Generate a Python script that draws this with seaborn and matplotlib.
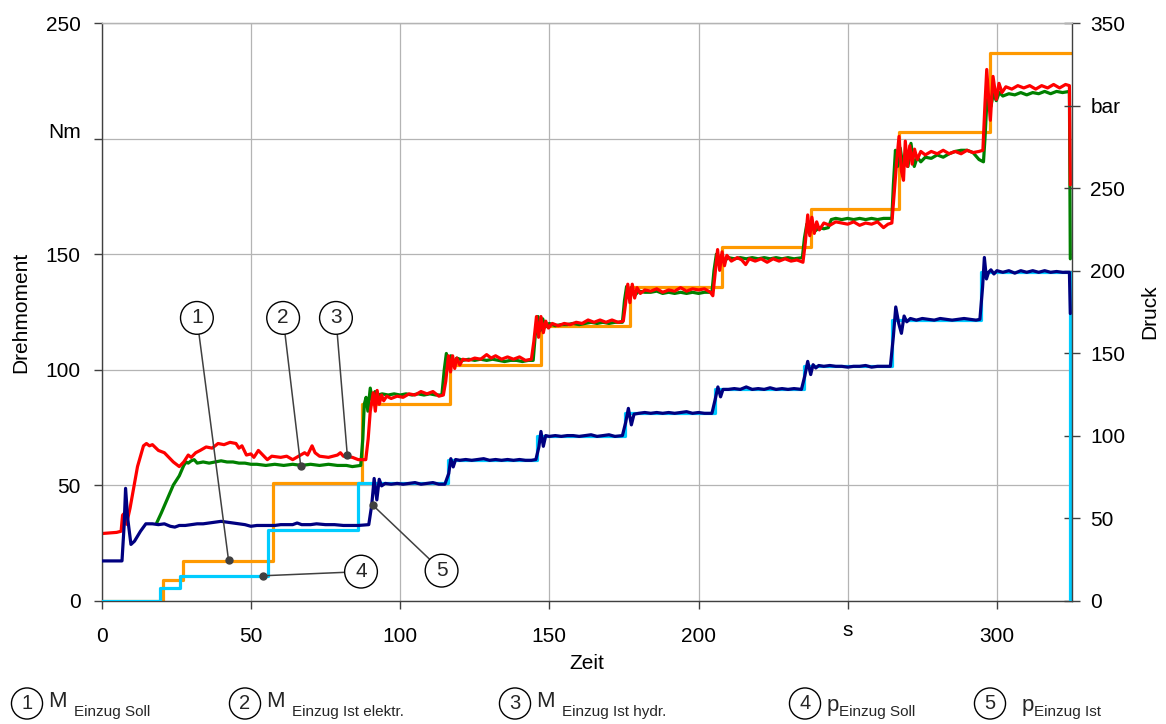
import matplotlib
matplotlib.use("Agg")
import matplotlib.pyplot as plt
import matplotlib.transforms as mtransforms
import seaborn as sns

# ---------------------------------------------------------------------------
# Set points (step signals)
# ---------------------------------------------------------------------------
t_m_soll = [0, 20.4, 27.4, 57.5, 87.1, 116.7, 147.1, 177.0, 207.8, 237.6, 267.2, 297.6, 325.0]
m_soll = [0, 9, 17, 51, 85, 102, 119, 136, 153, 169.5, 203, 237, 237]

t_p_soll = [0, 19.5, 26.2, 55.8, 86.0, 116.0, 146.0, 175.4, 205.4, 235.4, 265.0, 294.8, 324.6, 325.0]
p_soll = [0, 7.5, 15, 43, 71, 85, 99.5, 113.5, 128, 142, 170, 199, 0, 0]

# ---------------------------------------------------------------------------
# Measured torque, electric drive (Nm)
# ---------------------------------------------------------------------------
t_m_elektr = [
    18.4, 20, 22, 24, 26, 27.5, 28.3, 29, 30, 31, 32, 34, 36, 38, 40, 42, 44, 46, 48, 50,
    52, 55, 58, 61, 64, 67, 70, 73, 76, 79, 82, 84, 86.8,
    87.5, 88, 88.6, 89.2, 90, 90.8, 91.6, 92.5, 94, 96, 98, 100, 102, 104, 106, 108, 110, 112, 114,
    114.8, 115.5, 116.2, 117, 117.8, 119, 121, 123, 125, 127, 129, 131, 133, 135, 137, 139, 141, 143, 144.6,
    145.3, 146.2, 147, 147.8, 148.6, 150, 152, 154, 156, 158, 160, 162, 164, 166, 168, 170, 172, 174.5,
    175.2, 175.9, 176.7, 177.5, 178.5, 180, 182, 184, 186, 188, 190, 192, 194, 196, 198, 200, 202, 204.5,
    205.2, 206, 206.8, 207.6, 208.5, 210, 212, 214, 216, 218, 220, 222, 224, 226, 228, 230, 232, 234.8,
    235.5, 236.3, 237.1, 238, 239, 240.5, 242, 243.5, 244.5, 246, 248, 250, 252, 254, 256, 258, 260, 262, 264.8,
    265.3, 266, 266.7, 267.6, 268.4, 269.4, 270.2, 271.2, 272.3, 273.3, 274.5, 276, 278, 280, 282, 284, 286,
    288, 290, 292, 294, 295.5,
    296, 296.6, 297.2, 298, 298.8, 299.8, 300.8, 302, 304, 306, 308, 310, 312, 314, 316, 318, 320, 322,
    324.3, 324.6,
]
m_elektr = [
    33.5, 38, 44, 50, 54, 58.5, 60, 59.5, 60.5, 61, 59.5, 60, 59.5, 60, 60.5, 60, 60, 59.5, 59.5, 59,
    59, 58.5, 59, 58.5, 59, 58.5, 59, 58.5, 59, 58.5, 58.5, 58, 58.5,
    70, 85, 88, 82, 92, 86, 90.5, 89, 89.5, 89, 89.5, 89, 89.5, 89, 89.5, 89, 89.5, 89, 89,
    100, 107, 101, 106, 103, 105, 104, 104.5, 104, 104.5, 104, 104.5, 104, 103.5, 104, 104, 103.5, 104, 104,
    115, 123, 117, 122, 118.5, 120, 119, 119.5, 119.5, 120, 119.5, 120, 120.5, 120, 120.5, 120, 120.5, 120.5,
    130, 136, 131, 135.5, 132, 134, 133.5, 133.5, 134, 133, 133.5, 133, 133.5, 133, 133.5, 133, 133.5, 133.5,
    143, 150, 146, 149.5, 147, 148.5, 148, 148.5, 148, 148.5, 148, 148.5, 148, 148.5, 148, 148.5, 148, 148.5,
    157, 163, 159, 162, 160, 161.5, 161, 161.5, 165, 165.5, 165, 165.5, 165, 165.5, 165, 165.5, 165, 165.5, 165.5,
    180, 195, 188, 196, 189, 194, 188, 198, 188, 192, 190, 192, 191.5, 193, 192, 193.5, 194.5,
    195, 195, 194, 191, 190,
    200, 215, 219, 214, 219.5, 216.5, 220, 218.5, 219.5, 219, 220, 219, 220, 219.5, 220.5, 219.5, 220.5, 220,
    220.5, 148,
]

# ---------------------------------------------------------------------------
# Measured torque, hydraulic (Nm)
# ---------------------------------------------------------------------------
t_m_hydr = [
    0, 5, 6.5, 7, 7.8, 8.3, 9.5, 12, 14, 15, 16, 17, 19, 21, 24, 26, 27.5, 29, 30, 31.5, 33, 35, 37,
    39, 41, 43, 45, 46, 47, 48.5, 50, 51, 52.5, 54, 55.5, 57, 60, 62, 64, 66, 68, 69, 70.5, 71.5, 73,
    76, 79, 80, 81, 84, 86, 88.5,
    89.3, 90, 91, 91.7, 92.3, 93, 93.8, 94.5, 95.5, 97, 99, 101, 103, 105, 107, 109, 111, 113, 114.5,
    115.3, 116.2, 116.9, 117.6, 118.3, 119, 120, 121, 123, 125, 127, 129, 130.5, 132, 134, 136, 138, 140, 142, 144,
    144.8, 145.7, 146.4, 147.2, 148, 148.8, 149.7, 151, 153, 155, 157, 159, 161, 163, 165, 167, 169, 171, 173, 174.8,
    175.5, 176.3, 177, 177.8, 178.6, 179.4, 180.5, 182, 184, 186, 188, 190, 192, 194, 196, 198, 200, 202, 204,
    204.8, 205.6, 206.4, 207.1, 207.9, 208.7, 209.5, 211, 213, 214.5, 215.8, 217, 219, 221, 223, 225, 227, 229, 231, 233, 235,
    235.8, 236.6, 237.3, 238, 238.8, 239.6, 240.5, 242, 244, 246, 248, 250, 252, 254, 256, 258, 260, 262, 263.5, 264.8,
    265.5, 266.4, 267.2, 268, 268.7, 269.3, 270, 270.8, 271.6, 272.4, 273.3, 274.5, 276, 278, 280, 282, 284, 286, 288,
    290, 292, 294, 295.3,
    296, 296.6, 297.2, 297.8, 298.7, 299.8, 300.7, 301.7, 303, 305, 307, 309, 311, 313, 315, 317, 319, 321, 323,
    324.3, 324.6,
]
m_hydr = [
    29, 29.5, 30, 37, 38, 33, 40, 58, 67, 68, 67, 67.5, 65, 64, 60, 58, 60, 63, 62, 64, 65, 66.5, 66,
    68, 67.5, 68.5, 68, 66, 67, 63, 63.5, 62, 65, 63, 61, 62.5, 62, 62.5, 61, 62.5, 64, 63, 67, 64, 62.5,
    62, 63, 64, 62.5, 62, 61, 61,
    70, 82, 90, 82, 91, 85, 89, 86.5, 88.5, 87.5, 88.5, 88, 89.5, 89, 90.5, 89.5, 90.5, 88.5, 89,
    95, 106, 99, 106, 100.5, 105, 102, 104.5, 104, 105, 104.5, 106.5, 105, 106, 104.5, 105.5, 104.5, 105.5, 104, 104.5,
    112, 123, 114, 123, 116, 121, 118, 120, 119, 120, 119.5, 120.5, 120, 121.5, 120.5, 121.5, 120.5, 121.5, 120.5, 121,
    128, 137, 129, 137, 131, 135.5, 133, 134.5, 134, 135, 133.5, 134.5, 134, 135.5, 134, 135, 134.5, 135, 133.5,
    132, 142, 152, 143, 151, 145, 149.5, 147, 148.5, 147.5, 145.5, 148, 147, 148, 146.5, 148, 147, 148, 147, 147.5, 146.5,
    155, 167, 158, 166, 159, 164, 160.5, 163.5, 162.5, 164, 163.5, 163, 164, 162.5, 163.5, 163, 164, 161.5, 163, 163.5,
    175, 190, 201, 186, 182, 199, 188, 197, 189, 195.5, 191, 194.5, 193, 194.5, 193.5, 195, 193.5, 194.5, 193.5,
    195, 194, 194.5, 195,
    215, 230, 218, 208, 227, 217, 224, 220, 222.5, 221.5, 223, 222, 223, 221.5, 223, 222, 223.5, 222, 223.5,
    223, 180,
]

# ---------------------------------------------------------------------------
# Measured pull-in pressure (bar)
# ---------------------------------------------------------------------------
t_p_ist = [
    0, 6.8, 7.5, 8.0, 8.7, 9.8, 11, 13, 14.8, 17, 19, 21, 23, 24.5, 26, 28, 30, 32, 34, 36, 38, 40, 42,
    44, 46, 48, 50, 52, 54, 56, 58, 60, 62, 64, 65.5, 67, 70, 72, 75, 78, 81, 84, 86, 89.5,
    90.5, 91.3, 92.2, 93, 93.8, 95, 97, 99, 101, 103, 105, 107, 109, 111, 113, 115,
    116.3, 117, 117.8, 118.6, 120, 122, 124, 126, 128, 130, 132, 134, 136, 138, 140, 142, 144, 145.5,
    146.5, 147.2, 148, 148.8, 150, 152, 154, 156, 158, 160, 162, 164, 166, 168, 170, 172, 174.5,
    175.6, 176.5, 177.5, 178.4, 180, 182, 184, 186, 188, 190, 192, 194, 196, 198, 200, 202, 204.5,
    205.6, 206.5, 207.4, 208.2, 210, 212, 214, 216, 218, 220, 222, 224, 226, 228, 230, 232, 234.5,
    235.6, 236.6, 237.6, 238.4, 239.3, 240.3, 242, 244, 246, 248, 250, 252, 254, 256, 258, 260, 262, 264.3,
    265.3, 266.1, 267.1, 268, 268.9, 269.8, 271, 273, 275, 277, 279, 281, 283, 285, 287, 289, 291, 293, 294.3,
    295.2, 295.8, 296.5, 297.2, 298, 299, 300, 302, 304, 306, 308, 310, 312, 314, 316, 318, 320, 322,
    324.3, 324.6,
]
p_ist = [
    24, 24, 45, 68, 50, 34, 36, 42, 46.5, 46.5, 46, 46.5, 45, 44.5, 45.5, 45.5, 46, 46.5, 46.5, 47, 47.5, 48, 47.5,
    47, 46.5, 46, 45, 45.5, 45.5, 45.5, 45.5, 46, 46, 46, 47, 46, 46, 46.5, 46, 46, 45.5, 45.5, 45.5, 46,
    58, 74, 61, 73.5, 69.5, 71, 70.5, 71, 70.5, 71, 71.5, 70.5, 71, 71.5, 70.5, 70.5,
    77, 86, 81, 85.5, 85, 85.5, 85, 85.5, 86, 85, 85.5, 85, 85.5, 85, 85.5, 85, 85, 85.5,
    93, 102.5, 93.5, 100, 99.5, 100, 99.5, 100, 100, 99.5, 100, 100.5, 99.5, 100, 100.5, 99.5, 100,
    108, 116.5, 106.5, 113, 113.5, 114, 113.5, 114, 113.5, 114, 113.5, 114, 114.5, 113.5, 114, 113.5, 113.5,
    122, 129.5, 123.5, 128, 128, 128.5, 128, 129.5, 128, 128.5, 128, 129, 128, 128.5, 128, 128.5, 128,
    136, 145, 137, 143, 141, 142.5, 142, 142.5, 142, 142, 141.5, 142, 142, 142.5, 141.5, 142, 142, 142,
    160, 178, 168, 162, 172.5, 169, 171, 170, 171, 170.5, 170, 171, 170.5, 170, 170.5, 171, 170.5, 170, 170.5,
    190, 208, 195, 199, 200.5, 198, 200, 199, 200, 198.5, 200, 199, 200, 199, 200, 199, 199.5, 199,
    199, 174,
]

# Axis ticks and labels (units are written into the tick rows)
x_ticks = [0, 50, 100, 150, 200, 250, 300]
x_tick_labels = ["0", "50", "100", "150", "200", "s", "300"]
y_ticks = [0, 50, 100, 150, 200, 250]
y_tick_labels = ["0", "50", "100", "150", "Nm", "250"]
y2_ticks = [0, 50, 100, 150, 200, 250, 300, 350]
y2_tick_labels = ["0", "50", "100", "150", "200", "250", "bar", "350"]

# Legend entries: number, main symbol, subscript
legend_numbers = ["1", "2", "3", "4", "5"]
legend_symbols = ["M", "M", "M", "p", "p"]
legend_subscripts = ["Einzug Soll", "Einzug Ist elektr.", "Einzug Ist hydr.", "Einzug Soll", "Einzug Ist"]

C_M_SOLL = "#ff9900"
C_M_ELEKTR = "#008000"
C_M_HYDR = "#ff0000"
C_P_SOLL = "#00ccff"
C_P_IST = "#000080"

sns.set_theme(style="white")
plt.rcParams["font.family"] = ["Liberation Sans", "DejaVu Sans"]

W, H = 1166, 724
fig = plt.figure(figsize=(W / 100, H / 100), dpi=100)
ax = fig.add_axes([101.7 / W, 1 - 600.5 / H, (1071.5 - 101.7) / W, (600.5 - 23.3) / H])
ax2 = ax.twinx()

LW = 2.3
sns.lineplot(x=t_m_soll, y=m_soll, ax=ax, color=C_M_SOLL, linewidth=LW,
             drawstyle="steps-post", sort=False, estimator=None)
sns.lineplot(x=t_m_elektr, y=m_elektr, ax=ax, color=C_M_ELEKTR, linewidth=LW,
             sort=False, estimator=None)
sns.lineplot(x=t_m_hydr, y=m_hydr, ax=ax, color=C_M_HYDR, linewidth=LW,
             sort=False, estimator=None)
sns.lineplot(x=t_p_soll, y=p_soll, ax=ax2, color=C_P_SOLL, linewidth=LW,
             drawstyle="steps-post", sort=False, estimator=None)
sns.lineplot(x=t_p_ist, y=p_ist, ax=ax2, color=C_P_IST, linewidth=LW,
             sort=False, estimator=None)

ax.set_xlim(0, 325)
ax.set_ylim(0, 250)
ax2.set_ylim(0, 350)

GRID = "#b4b4b4"
SPINE = "#404040"
ax.set_xticks(x_ticks)
ax.set_xticklabels(x_tick_labels)
ax.set_yticks(y_ticks)
ax.set_yticklabels(y_tick_labels)
ax2.set_yticks(y2_ticks)
ax2.set_yticklabels(y2_tick_labels)
ax.grid(True, color=GRID, linewidth=0.9)
ax2.grid(False)

for a in (ax, ax2):
    for side in ("left", "bottom", "right"):
        a.spines[side].set_color(SPINE)
        a.spines[side].set_linewidth(1.0)
    a.spines["top"].set_color(GRID)
    a.spines["top"].set_linewidth(0.9)
ax.spines["right"].set_visible(False)
ax2.spines["left"].set_visible(False)
ax2.spines["bottom"].set_visible(False)

ax.tick_params(axis="x", direction="out", length=6, width=1, color=SPINE, pad=13,
               labelsize=15, labelcolor="black", bottom=True)
ax.tick_params(axis="y", direction="out", length=6, width=1, color=SPINE, pad=9,
               labelsize=15, labelcolor="black", left=True)
ax2.tick_params(axis="y", direction="inout", length=11, width=1, color=SPINE, pad=8,
                labelsize=15, labelcolor="black", right=True)

# lift the unit labels a little, as they stand in for a number
for lab in ax.get_xticklabels():
    if lab.get_text() == "s":
        lab.set_transform(lab.get_transform() + mtransforms.ScaledTranslation(0, 4 / 72, fig.dpi_scale_trans))
for lab in ax.get_yticklabels():
    if lab.get_text() == "Nm":
        lab.set_transform(lab.get_transform() + mtransforms.ScaledTranslation(0, 6 / 72, fig.dpi_scale_trans))

ax.set_xlabel("Zeit", fontsize=15, labelpad=6, color="black")
ax.set_ylabel("Drehmoment", fontsize=15, labelpad=11, color="black")
ax2.set_ylabel("Druck", fontsize=15, labelpad=11, color="black")

# numbered call-outs with leader lines
LEAD = "#404040"
circle_box = dict(boxstyle="circle,pad=0.33", fc="white", ec="black", lw=1.0)
callouts = [
    # number, point (t, value), label centre (t, value), axes used for the values
    ("1", (42.5, 17.5), (31.9, 122.4), ax),
    ("2", (66.7, 58.2), (60.8, 122.4), ax),
    ("3", (82.3, 63.0), (78.5, 122.4), ax),
    ("4", (54.1, 15.0), (86.9, 17.5), ax2),
    ("5", (90.8, 57.9), (113.9, 18.1), ax2),
]
for num, pt, txt, src in callouts:
    ax2.annotate(num, xy=pt, xycoords=src.transData, xytext=txt, textcoords=src.transData,
                 ha="center", va="center", fontsize=15, bbox=circle_box, zorder=10,
                 arrowprops=dict(arrowstyle="-", color=LEAD, lw=1.1, shrinkA=0, shrinkB=0))
    ax2.plot([pt[0]], [pt[1]], marker="o", markersize=5, color=LEAD,
             transform=src.transData, zorder=11, clip_on=False)

# legend row under the chart
legend_circle_x = [27, 245, 515, 805, 990]
legend_y = 703.5
legend_box = dict(boxstyle="circle,pad=0.3", fc="white", ec="black", lw=1.0)
for i in range(len(legend_numbers)):
    cx = legend_circle_x[i]
    fig.text(cx / W, 1 - legend_y / H, legend_numbers[i], ha="center", va="center",
             fontsize=14.5, bbox=legend_box)
    if legend_symbols[i] == "p":
        dx = 22 if i == 3 else 32
        fig.text((cx + dx) / W, 1 - 711 / H, "p", ha="left", va="baseline", fontsize=16)
        fig.text((cx + dx + 12) / W, 1 - 716 / H, legend_subscripts[i], ha="left", va="baseline", fontsize=11)
    else:
        fig.text((cx + 21) / W, 1 - 707 / H, "M", ha="left", va="baseline", fontsize=16)
        fig.text((cx + 47) / W, 1 - 716 / H, legend_subscripts[i], ha="left", va="baseline", fontsize=11)

fig.savefig("out.png", dpi=100)
